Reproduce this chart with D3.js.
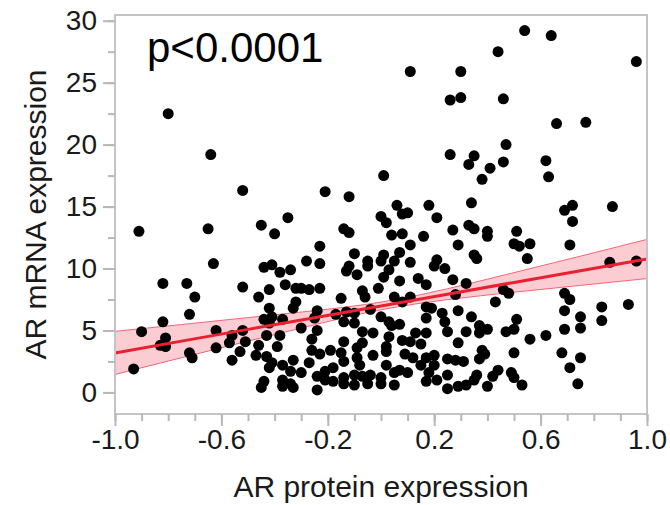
<!DOCTYPE html>
<html>
<head>
<meta charset="utf-8">
<script src="https://cdn.jsdelivr.net/npm/d3@7"></script>
<style>
  body { margin: 0; background: #fff; }
  text { font-family: "Liberation Sans", Arial, sans-serif; }
</style>
</head>
<body>
<div id="chart"></div>
<script>
// AR protein (x) and AR mRNA (y), one entry per sample
const arProtein = [
  -0.80, 0.11, 0.26, 0.30, 0.30, 0.54, 0.64, 0.44, 0.96, 0.46, 0.66, 0.77,
  -0.64, -0.52, -0.91, -0.65, -0.45, -0.40, -0.63, -0.44, -0.41, -0.38,
  0.26, 0.01, -0.21, -0.12, -0.35, 0.06, 0.18, 0.00, 0.02, 0.08, 0.10, 0.21,
  -0.14, -0.12, 0.04, 0.08, 0.16, 0.27, 0.29, 0.11, -0.23, -0.10, -0.28, -0.23,
  0.01, 0.07, 0.00, 0.05, 0.11, -0.05, -0.05, -0.12, -0.13, 0.21, 0.20, 0.24,
  -0.34, 0.03,
  0.47, 0.35, 0.33, 0.41, 0.46, 0.38, 0.62, 0.63, 0.34, 0.69, 0.72, 0.72,
  0.87, 0.33, 0.35, 0.40, 0.40, 0.51, 0.50, 0.52, 0.56, 0.71, 0.35, 0.36,
  0.55, 0.86, 0.96,
  -0.82, -0.73, -0.70, -0.72, -0.82, -0.90, -0.81, -0.83, -0.81, -0.93,
  -0.72, -0.71, -0.62, -0.62, -0.56, -0.57, -0.53, -0.56,
  -0.52, -0.42, -0.36, -0.32, -0.30, -0.27, -0.23, -0.46, -0.32, -0.33,
  -0.15, -0.42, -0.44, -0.41, -0.37, -0.42, -0.24, -0.25, -0.17, -0.13,
  -0.10, -0.14, -0.10, -0.30, -0.24, -0.52, -0.38, -0.43, -0.51, -0.26,
  -0.14, -0.46, -0.39, -0.26, -0.19, -0.23, -0.15, -0.47, -0.43, -0.41,
  -0.33, -0.27, -0.37, -0.42, -0.14, -0.09, -0.18, -0.21, -0.34, -0.30,
  -0.24, -0.10, -0.44, -0.37, -0.34, -0.21, -0.18, -0.14, -0.45, -0.37,
  -0.33, -0.14, -0.10,
  -0.09, 0.01, 0.07, 0.14, 0.17, 0.27, -0.01, -0.07, -0.06, 0.05, 0.11,
  0.08, 0.28, -0.04, 0.17, 0.19, 0.23, 0.29, 0.00, 0.03, 0.04, 0.07, 0.17,
  0.24, 0.25, -0.07, -0.03, 0.03, 0.13, 0.17, -0.07, 0.02, 0.08, 0.11,
  0.15, 0.29, -0.09, -0.03, 0.02, 0.09, 0.12, 0.17, 0.20, 0.25, 0.28,
  -0.08, 0.02, 0.07, 0.10, 0.15, 0.20, -0.07, -0.04, 0.00, 0.05, 0.18,
  0.21, 0.25, -0.05, 0.00, 0.05, 0.17, 0.25, 0.29,
  0.32, 0.43, 0.46, 0.48, 0.69, 0.71, 0.69, 0.83, 0.93, 0.83, 0.75, 0.75,
  0.69, 0.34, 0.37, 0.40, 0.32, 0.37, 0.47, 0.50, 0.51, 0.56, 0.62, 0.38,
  0.39, 0.37, 0.31, 0.50, 0.68, 0.75, 0.71, 0.74, 0.44, 0.42, 0.49, 0.50,
  0.53, 0.40, 0.36, 0.35, 0.32, -0.24
];
const arMrna = [
  22.5, 25.9, 23.6, 25.9, 23.8, 29.2, 28.8, 27.5, 26.7, 23.7, 21.7, 21.8,
  19.2, 16.3, 13.0, 13.2, 13.5, 12.8, 10.4, 10.1, 10.3, 9.7,
  19.2, 17.5, 16.2, 15.8, 14.1, 15.1, 15.1, 14.2, 13.7, 14.4, 14.5, 14.1,
  13.2, 12.9, 12.7, 12.8, 12.6, 13.1, 11.9, 11.9, 11.8, 11.2, 10.6, 10.4,
  11.1, 11.3, 10.6, 10.6, 10.5, 10.6, 10.2, 10.2, 9.8, 10.7, 10.2, 10.0,
  9.9, 9.9,
  20.0, 19.1, 18.4, 18.1, 18.6, 17.2, 18.7, 17.4, 15.3, 14.7, 15.1, 13.8,
  15.0, 13.5, 13.2, 13.0, 12.6, 13.0, 12.0, 11.8, 12.0, 11.9, 11.1, 10.8,
  10.8, 10.5, 10.6,
  8.8, 8.8, 7.7, 6.3, 5.7, 4.9, 4.4, 3.8, 3.7, 1.9,
  3.2, 2.8, 5.0, 3.6, 4.6, 4.0, 3.3, 2.6,
  8.5, 8.3, 8.7, 8.4, 8.4, 8.3, 8.4, 7.7, 7.3, 6.8,
  7.6, 6.8, 5.9, 6.1, 5.9, 5.6, 6.6, 6.0, 6.3, 6.5,
  6.4, 5.7, 5.6, 5.2, 5.0, 5.0, 4.6, 4.6, 4.1, 4.3,
  4.1, 3.8, 3.7, 3.4, 3.4, 3.1, 3.2, 3.0, 2.9, 2.4,
  2.6, 2.4, 2.2, 2.0, 2.5, 2.8, 2.0, 1.7, 1.7, 1.6,
  1.3, 1.4, 0.9, 1.0, 0.7, 1.0, 0.9, 1.2, 0.4, 0.5,
  0.4, 0.7, 0.6,
  9.5, 9.3, 9.0, 9.2, 8.7, 9.1, 8.4, 8.2, 7.7, 7.7, 7.7,
  7.3, 7.9, 6.7, 6.9, 6.8, 6.4, 6.6, 6.1, 5.7, 5.4, 5.5, 6.0,
  5.7, 4.9, 4.9, 4.8, 4.5, 4.8, 4.8, 4.0, 3.7, 4.2, 4.1,
  3.9, 4.0, 3.6, 3.0, 3.3, 3.1, 2.8, 2.8, 3.0, 2.7, 2.6,
  2.2, 2.2, 1.8, 1.6, 2.2, 2.2, 1.3, 1.4, 1.2, 1.6, 1.6,
  1.0, 1.4, 0.7, 0.7, 0.6, 0.9, 0.3, 0.5,
  8.8, 7.3, 8.3, 8.0, 8.0, 7.5, 6.6, 6.9, 7.1, 5.8, 6.1, 5.2,
  5.1, 6.1, 5.4, 5.1, 4.9, 4.8, 4.9, 5.1, 5.9, 4.3, 4.6, 3.4,
  3.1, 2.7, 2.5, 3.2, 3.2, 2.8, 2.0, 0.7, 1.8, 1.3, 1.6, 1.2,
  0.6, 0.5, 1.4, 1.0, 0.6, 0.2
];

// fitted line and its 95% confidence band
const fitX = [-1.0, -0.75, -0.5, -0.25, 0.0, 0.25, 0.5, 0.75, 1.0];
const fitY = [3.19, 4.14, 5.09, 6.03, 6.98, 7.93, 8.88, 9.82, 10.77];
const ciLow = [1.45, 2.80, 4.14, 5.46, 6.67, 7.49, 8.09, 8.64, 9.19];
const ciHigh = [4.93, 5.48, 6.04, 6.60, 7.29, 8.37, 9.67, 11.00, 12.35];

const xTicks = [-1.0, -0.9, -0.8, -0.7, -0.6, -0.5, -0.4, -0.3, -0.2, -0.1, 0.0,
  0.1, 0.2, 0.3, 0.4, 0.5, 0.6, 0.7, 0.8, 0.9, 1.0];
const xLabels = [-1.0, -0.6, -0.2, 0.2, 0.6, 1.0];
const yTicks = [0, 2.5, 5, 7.5, 10, 12.5, 15, 17.5, 20, 22.5, 25, 27.5, 30];
const yLabels = [0, 5, 10, 15, 20, 25, 30];
const pText = "p<0.0001";

const width = 670, height = 505;
const margin = { top: 15, right: 23, bottom: 91, left: 115 };

const svg = d3.select("#chart").append("svg")
  .attr("width", width)
  .attr("height", height);

const x = d3.scaleLinear()
  .domain([-1, 1])
  .range([margin.left, width - margin.right]);
const y = d3.scaleLinear()
  .domain([-1.74, 30.46])
  .range([height - margin.bottom, margin.top]);

const data = arProtein.map((v, i) => ({ x: v, y: arMrna[i] }));
const band = fitX.map((v, i) => ({ x: v, f: fitY[i], lo: ciLow[i], hi: ciHigh[i] }));

const plot = svg.append("g");
plot.append("path")
  .datum(band)
  .attr("fill", "#fbcdd3")
  .attr("d", d3.area().curve(d3.curveNatural)
    .x(d => x(d.x)).y0(d => y(d.lo)).y1(d => y(d.hi)));
["lo", "hi"].forEach(k => {
  plot.append("path")
    .datum(band)
    .attr("fill", "none")
    .attr("stroke", "#f2667a")
    .attr("stroke-width", 1)
    .attr("d", d3.line().curve(d3.curveNatural).x(d => x(d.x)).y(d => y(d[k])));
});

plot.append("g")
  .selectAll("circle")
  .data(data)
  .join("circle")
    .attr("cx", d => x(d.x))
    .attr("cy", d => y(d.y))
    .attr("r", 5.5)
    .attr("fill", "#000");

plot.append("path")
  .datum(band)
  .attr("fill", "none")
  .attr("stroke", "#e8202f")
  .attr("stroke-width", 3)
  .attr("d", d3.line().x(d => x(d.x)).y(d => y(d.f)));

// frame
svg.append("rect")
  .attr("x", margin.left)
  .attr("y", margin.top)
  .attr("width", width - margin.left - margin.right)
  .attr("height", height - margin.top - margin.bottom)
  .attr("fill", "none")
  .attr("stroke", "#c4c4c4")
  .attr("stroke-width", 2);

function styleAxis(g) {
  g.select(".domain").remove();
  g.selectAll(".tick line").attr("stroke", "#b8b8b8").attr("stroke-width", 2);
  g.selectAll(".tick text").attr("fill", "#1a1a1a").attr("font-size", "28px")
    .attr("font-family", "'Liberation Sans', Arial, sans-serif");
}

const fmt = v => d3.format(".1f")(v).replace("\u2212", "-");
svg.append("g")
  .attr("transform", `translate(0,${height - margin.bottom})`)
  .call(d3.axisBottom(x).tickValues(xTicks).tickSize(7).tickFormat(""))
  .call(styleAxis);
svg.append("g")
  .attr("transform", `translate(0,${height - margin.bottom})`)
  .call(d3.axisBottom(x).tickValues(xLabels).tickSize(12).tickPadding(3).tickFormat(fmt))
  .call(styleAxis);

svg.append("g")
  .attr("transform", `translate(${margin.left},0)`)
  .call(d3.axisLeft(y).tickValues(yTicks).tickSize(7).tickFormat(""))
  .call(styleAxis);
svg.append("g")
  .attr("transform", `translate(${margin.left},0)`)
  .call(d3.axisLeft(y).tickValues(yLabels).tickSize(12).tickPadding(6))
  .call(styleAxis);

svg.append("text")
  .attr("x", (margin.left + width - margin.right) / 2)
  .attr("y", 497)
  .attr("text-anchor", "middle")
  .attr("font-size", "30px")
  .attr("fill", "#1a1a1a")
  .text("AR protein expression");

svg.append("text")
  .attr("transform", `translate(46,${(margin.top + height - margin.bottom) / 2}) rotate(-90)`)
  .attr("text-anchor", "middle")
  .attr("font-size", "30px")
  .attr("fill", "#1a1a1a")
  .text("AR mRNA expression");

svg.append("text")
  .attr("x", 147)
  .attr("y", 62)
  .attr("font-size", "42px")
  .attr("fill", "#000")
  .text(pText);
</script>
</body>
</html>
